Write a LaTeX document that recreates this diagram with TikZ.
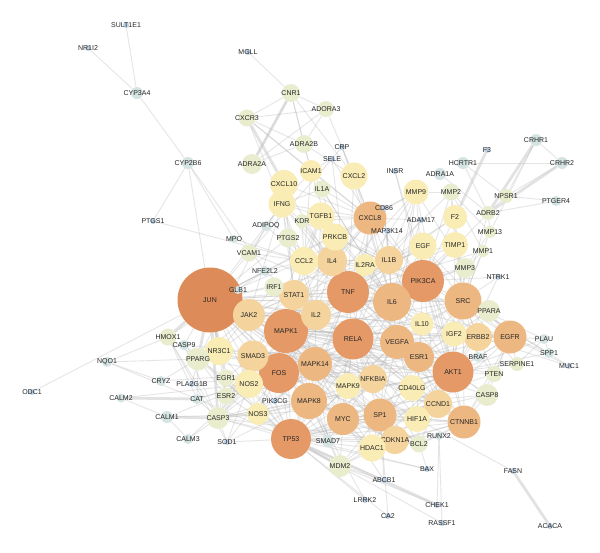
\documentclass[tikz,border=0pt]{standalone}
\usepackage{fontspec}
\setmainfont{Liberation Sans}
\definecolor{hubA}{RGB}{222,139,90}
\definecolor{hubB}{RGB}{229,153,103}
\definecolor{hubC}{RGB}{237,183,130}
\definecolor{hubD}{RGB}{244,212,156}
\definecolor{pale}{RGB}{249,236,180}
\definecolor{leaf}{RGB}{233,237,206}
\definecolor{mist}{RGB}{212,228,227}
\definecolor{dot}{RGB}{188,208,228}
\pgfdeclarelayer{bg}
\pgfsetlayers{bg,main}

\begin{document}
\begin{tikzpicture}[x=1pt, y=-1pt,
  every node/.style = {shape=circle, inner sep=0pt,
    font=\fontsize{7}{7}\selectfont, text=black!85},
  edge/.style = {draw=black!30, line width=0.9pt, opacity=0.33},
  wide/.style = {draw=black!22, line width=2.8pt, opacity=0.5}]
  \useasboundingbox (0,0) rectangle (600,552);

  \foreach \n/\x/\y/\d in {JUN/210/300/65}
    \node[fill=hubA, minimum size=\d pt] (\n) at (\x,\y) {\makebox[0pt]{\n}};
  \foreach \n/\x/\y/\d in {MAPK1/286/331/44, TNF/348/292/42, RELA/353/339/41,
      PIK3CA/423/281/42, AKT1/453/372/41, TP53/291/439/40, FOS/279/373/40}
    \node[fill=hubB, minimum size=\d pt] (\n) at (\x,\y) {\makebox[0pt]{\n}};
  \foreach \n/\x/\y/\d in {SRC/463/301/37, IL6/392/302/38, EGFR/510/337/33,
      VEGFA/397/342/34, MAPK8/309/401/36, MAPK14/315/364/34, CXCL8/370/218/33,
      CTNNB1/464/422/33, SP1/380/415/33, MYC/343/419/32, ESR1/419/357/30}
    \node[fill=hubC, minimum size=\d pt] (\n) at (\x,\y) {\makebox[0pt]{\n}};
  \foreach \n/\x/\y/\d in {IL1B/389/260/28, JAK2/249/315/32, SMAD3/253/356/31,
      IL4/332/261/30, IL2/316/315/30, STAT1/294/295/30, ERBB2/478/337/28,
      NFKBIA/373/379/28, CCND1/438/404/28, CDKN1A/395/440/28}
    \node[fill=hubD, minimum size=\d pt] (\n) at (\x,\y) {\makebox[0pt]{\n}};
  \foreach \n/\x/\y/\d in {CCL2/304/261/28, PRKCB/335/237/27, TGFB1/321/216/27,
      IFNG/282/204/27, IL2RA/365/265/22, IL10/422/324/23, IGF2/454/334/25,
      CD40LG/412/388/26, MAPK9/348/386/26, HIF1A/417/419/26, HDAC1/372/448/27,
      NOS2/249/384/28, NR3C1/219/351/28, EGF/423/246/27, TIMP1/455/245/26,
      F2/455/217/24, MMP9/416/192/25, CXCL2/354/176/27, CXCL10/284/184/28,
      ICAM1/311/171/22, NOS3/258/414/22}
    \node[fill=pale, minimum size=\d pt] (\n) at (\x,\y) {\makebox[0pt]{\n}};
  \foreach \n/\x/\y/\d in {CNR1/291/93/18, ADORA3/326/109/16, CXCR3/247/118/17,
      ADRA2B/304/144/18, ADRA2A/252/164/20, IL1A/322/189/17, KDR/302/221/14,
      PTGS2/288/238/19, VCAM1/249/253/17, IRF1/274/287/19, HMOX1/168/337/17,
      EGR1/226/378/17, ESR2/226/396/17, MMP3/465/268/20, MMP2/451/192/17,
      PPARA/489/311/22, ADRB2/488/213/14, NPSR1/506/196/14, MMP1/483/251/12,
      MMP13/490/232/12, BCL2/419/444/17, CASP8/487/395/22, PTEN/494/374/16,
      SERPINE1/517/364/14, PPARG/198/359/23, CASP3/218/418/22, MDM2/340/466/22}
    \node[fill=leaf, minimum size=\d pt] (\n) at (\x,\y) {\makebox[0pt]{\n}};
  \foreach \n/\x/\y/\d in {CYP3A4/137/93/12, CYP2B6/188/163/12, CRHR1/536/140/12,
      CRHR2/562/163/12, HCRTR1/463/163/12, ADRA1A/440/174/12, CALM1/167/417/12,
      CALM2/121/398/9, CALM3/188/439/10, CAT/197/399/10, CRYZ/161/381/10,
      NQO1/107/362/10, CASP9/184/345/10, SMAD7/328/441/12, ADIPOQ/266/226/10,
      NFE2L2/265/271/10, GLB1/238/290/8, PTGER4/556/201/10, BRAF/478/357/10,
      PLAU/544/339/10, SPP1/549/353/10, RUNX2/439/436/8, MPO/234/239/8}
    \node[fill=mist, minimum size=\d pt] (\n) at (\x,\y) {\makebox[0pt]{\n}};
  \foreach \n/\x/\y in {SULT1E1/126/25, NR1I2/88/48, MGLL/248/52, PTGS1/153/221,
      CD86/384/208, INSR/395/171, F3/487/150, ADAM17/421/220, NTRK1/498/277,
      MUC1/569/366, ODC1/32/392, PLA2G1B/192/384, PIK3CG/275/401, SOD1/227/442,
      BAX/427/469, FASN/513/471, ABCB1/384/480, LRRK2/365/500, CA2/388/516,
      CHEK1/437/505, RASSF1/442/523, ACACA/550/526, CRP/342/147, SELE/332/159,
      MAP3K14/387/231}
    \node[fill=dot, minimum size=6pt] (\n) at (\x,\y) {\makebox[0pt]{\n}};

  \begin{pgfonlayer}{bg}
  \fill[white] (0,0) rectangle (600,552);
  \foreach \s/\tl in {
    JUN/{MAPK1,TNF,RELA,FOS,TP53,AKT1,MAPK8,MAPK14,MAPK9,IL6,VEGFA,MYC,SP1,ESR1,SMAD3,JAK2,STAT1,IRF1,GLB1,NFE2L2,VCAM1,PTGS2,IFNG,CCL2,CXCL8,IL1B,PIK3CA,SRC,NOS2,ESR2,CASP9,CCND1,CTNNB1,HDAC1,CDKN1A,BCL2,NFKBIA,HIF1A,EGFR,IL2,MMP9,CYP2B6,ODC1},
    MAPK1/{TNF,RELA,AKT1,PIK3CA,TP53,FOS,SRC,EGFR,IL6,VEGFA,MAPK8,MAPK14,MAPK9,ESR1,MYC,SP1,CTNNB1,IL1B,CXCL8,STAT1,JAK2,SMAD3,ERBB2,EGF,PRKCB,TGFB1,IL2,IL4,CCL2,NOS2,NOS3,CASP3,CCND1,HIF1A,CDKN1A,BCL2,MDM2,NFKBIA,PTEN,CASP8,BRAF,IGF2,IL10,MMP9,MMP3},
    TNF/{RELA,AKT1,PIK3CA,TP53,IL6,CXCL8,IL1B,VEGFA,MAPK14,MAPK8,NFKBIA,IL10,IL2,IL4,CCL2,IFNG,ICAM1,VCAM1,SELE,IL1A,CXCL10,CXCL2,PTGS2,TGFB1,MMP9,MMP3,MMP1,MMP2,TIMP1,F2,EGF,CASP8,CASP3,CD40LG,IL2RA,STAT1,FOS,MYC,SRC,EGFR,PRKCB,KDR,CD86},
    RELA/{AKT1,PIK3CA,TP53,IL6,VEGFA,NFKBIA,MAPK14,MAPK8,MAPK9,MYC,SP1,HDAC1,CDKN1A,CCND1,HIF1A,BCL2,CTNNB1,ESR1,STAT1,JAK2,SMAD3,SMAD7,NOS2,IL1B,CXCL8,MAP3K14,IL10,FOS,EGFR,SRC,CD40LG,IL2},
    AKT1/{PIK3CA,SRC,EGFR,ERBB2,IGF2,PTEN,CCND1,CTNNB1,HIF1A,MDM2,TP53,BCL2,CASP8,CASP9,CASP3,MYC,SP1,ESR1,VEGFA,IL6,IL10,CD40LG,BRAF,PPARA,SERPINE1,NOS3,MAPK14,MAPK8,INSR,FOS,HDAC1,CDKN1A,EGF,TIMP1,MMP9,MMP3,NTRK1,PLAU,SPP1},
    PIK3CA/{SRC,EGFR,ERBB2,EGF,IGF2,PTEN,IL6,VEGFA,IL1B,KDR,TIMP1,MMP9,F2,PRKCB,IL2RA,IL4,CXCL8,MAP3K14,PIK3CG,CCND1,CTNNB1,ESR1,MMP2,MMP3,NTRK1,ADRB2,INSR},
    TP53/{MDM2,CDKN1A,HDAC1,MYC,SP1,BCL2,BAX,RASSF1,CASP3,CASP8,CASP9,SMAD7,SMAD3,MAPK8,MAPK14,MAPK9,FOS,NOS2,NOS3,ESR2,EGR1,CCND1,CTNNB1,HIF1A,ESR1,PTEN,ABCB1,SOD1,CAT,PPARG,NR3C1,VEGFA,IL6,LRRK2,RUNX2,CA2,PIK3CG},
    FOS/{MAPK8,MAPK14,MAPK9,MYC,SP1,NOS2,NOS3,EGR1,ESR2,NR3C1,PPARG,SMAD3,CASP3,IL6,VEGFA,ESR1,STAT1,NFKBIA,PIK3CG,CALM1,CAT,PLA2G1B,CRYZ,SOD1,IL2},
    SRC/{EGFR,ERBB2,EGF,IGF2,PPARA,MMP3,MMP1,TIMP1,F2,BRAF,PLAU,SPP1,SERPINE1,NTRK1,ESR1,VEGFA,CTNNB1,IL6,IL10,MUC1,PTEN,MMP13,MMP2,ADRB2},
    IL6/{VEGFA,IL1B,CXCL8,IL10,IL4,IL2RA,STAT1,JAK2,CCL2,TGFB1,PRKCB,EGF,MMP9,TIMP1,CRP,IL1A,ICAM1,CXCL2,ESR1,MYC,SP1,IGF2,MAP3K14,CD86,ADAM17},
    EGFR/{ERBB2,EGF,IGF2,ESR1,PTEN,BRAF,CCND1,CTNNB1,MUC1,PLAU,SPP1,SERPINE1,PPARA,CASP8,VEGFA,IL10},
    VEGFA/{HIF1A,ESR1,IL10,KDR,MMP9,CCND1,CD40LG,IGF2,MYC,SP1,CTNNB1,NFKBIA,MAPK9},
    CXCL8/{IL1B,CXCL2,CXCL10,ICAM1,IL1A,CCL2,IFNG,TGFB1,PRKCB,IL4,IL2RA,CD86,MAP3K14,ADAM17,SELE,CRP,CXCR3,MMP9,KDR},
    IL1B/{IL2RA,IL4,CCL2,TGFB1,PRKCB,MAP3K14,IL10,MMP9,EGF,TIMP1,F2,ADAM17,CD86},
    MAPK14/{MAPK8,MAPK9,NFKBIA,MYC,SMAD3,SMAD7,STAT1,NOS2,NOS3,PIK3CG,HDAC1,CDKN1A,JAK2,IL2},
    MAPK8/{MAPK9,MYC,SP1,SMAD7,NOS3,NOS2,PIK3CG,HDAC1,CDKN1A,BCL2,MDM2,LRRK2,CASP3,SOD1},
    ESR1/{ESR2,IGF2,IL10,ERBB2,CCND1,CD40LG,HIF1A,CTNNB1,SP1,HDAC1,PPARA,BRAF,NR3C1,PPARG},
    CTNNB1/{CCND1,HIF1A,RUNX2,BCL2,CDKN1A,HDAC1,CASP8,PTEN,MYC,SP1,CD40LG},
    MYC/{SP1,HDAC1,CDKN1A,MDM2,CCND1,SMAD7,ABCB1,HIF1A},
    SP1/{HDAC1,CDKN1A,CCND1,HIF1A,BCL2,MDM2,ABCB1,CA2},
    JAK2/{STAT1,IRF1,IL2,SMAD3,NR3C1,IL4,IL2RA,IFNG,PPARG,GLB1},
    STAT1/{IRF1,IFNG,IL2,IL4,CCL2,CXCL10,SMAD3,NR3C1,PTGS2,NFE2L2},
    SMAD3/{NR3C1,PPARG,EGR1,SMAD7,TGFB1,NOS2,CASP3,ESR2},
    IL2/{IL2RA,IL10,IFNG,CCL2,TGFB1,CD40LG,IL4},
    IL4/{IL2RA,IL10,IFNG,CCL2,TGFB1,CD86},
    IFNG/{CXCL10,ICAM1,IL1A,TGFB1,KDR,CCL2,PTGS2,ADIPOQ,VCAM1},
    CCL2/{PTGS2,VCAM1,KDR,TGFB1,ICAM1,MPO,ADIPOQ,NFE2L2},
    HMOX1/{NQO1,NFE2L2,CAT,PPARG,CASP3,SOD1},
    PPARG/{NR3C1,EGR1,ESR2,CASP9,PLA2G1B,CAT,CRYZ,NQO1,ADIPOQ},
    CASP3/{CASP9,CALM3,CAT,NOS3,NOS2,ESR2,EGR1,SOD1,PIK3CG,CASP8,BCL2,BAX},
    NOS2/{CALM2,CALM3,CAT,PIK3CG,SOD1,EGR1,ESR2,NOS3},
    CNR1/{MGLL,ADORA3,CXCR3,ADRA2B,ADRA2A,ICAM1,CXCL2},
    ADORA3/{CXCR3,ADRA2B,ADRA2A,CXCL2},
    CXCR3/{ADRA2B,ICAM1,IFNG},
    ADRA2B/{ADRA2A,CXCL2,ICAM1},
    SELE/{CRP,ICAM1,VCAM1},
    CYP3A4/{SULT1E1,NR1I2,CYP2B6},
    CYP2B6/{PTGS1,NFE2L2,MPO},
    PTGS1/{CCL2},
    CRHR1/{CRHR2,NPSR1,MMP13},
    CRHR2/{NPSR1,HCRTR1},
    NPSR1/{HCRTR1,PTGER4,ADRB2},
    ADRB2/{ADRA1A,HCRTR1,PTGER4,MMP13},
    MMP2/{MMP9,MMP13,MMP1,TIMP1},
    MMP3/{MMP9,MMP1,TIMP1,MMP13},
    PLAU/{SERPINE1,SPP1},
    MUC1/{ERBB2},
    NQO1/{CAT,CRYZ},
    CALM1/{CALM2,CALM3,NOS3},
    BCL2/{BAX,CDKN1A,HIF1A,RUNX2},
    MDM2/{HDAC1,CDKN1A,ABCB1,CHEK1},
    RUNX2/{RASSF1,CHEK1},
    FASN/{HIF1A}}
    \foreach \t in \tl \draw[edge] (\s) -- (\t);
  \foreach \a/\b in {CXCR3/CXCL10, F3/F2, FASN/ACACA, CALM1/CASP3, CHEK1/TP53,
      JUN/HMOX1, JUN/PPARG, JUN/NR3C1, JUN/CASP3, JUN/EGR1, TP53/MDM2,
      CRHR1/ADRB2, CRHR2/ADRB2, ADRA2A/CNR1, CALM2/CAT}
    \draw[wide] (\a) -- (\b);
  \end{pgfonlayer}
\end{tikzpicture}
\end{document}
